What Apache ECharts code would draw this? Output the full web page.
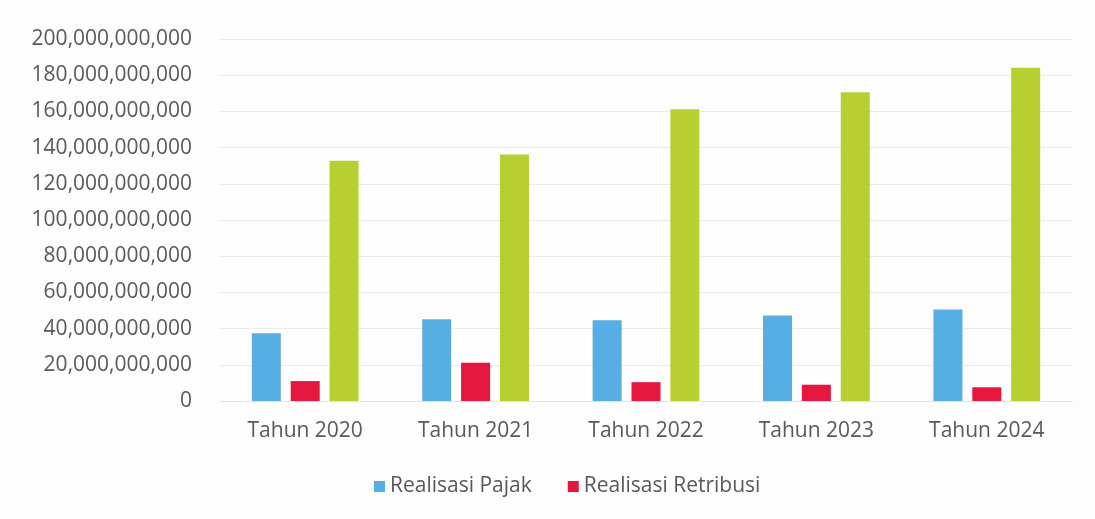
<!DOCTYPE html>
<html>
<head>
<meta charset="utf-8">
<script src="https://cdn.jsdelivr.net/npm/echarts@6/dist/echarts.min.js"></script>
<style>
  html, body { margin: 0; padding: 0; background: #fdfdfd; }
  #chart { width: 1095px; height: 519px; }
</style>
</head>
<body>
<div id="chart"></div>
<script>
const categories = ['Tahun 2020', 'Tahun 2021', 'Tahun 2022', 'Tahun 2023', 'Tahun 2024'];
const pajak = [37.5e9, 45.2e9, 44.6e9, 47.2e9, 50.6e9];
const retribusi = [11.0e9, 21.2e9, 10.4e9, 9.0e9, 7.6e9];
const total = [132.7e9, 136.2e9, 161.2e9, 170.6e9, 184.1e9];
const yTicks = { min: 0, max: 200e9, interval: 20e9 };

const chart = echarts.init(document.getElementById('chart'));
const fmt = v => v === 0 ? '0' : v.toLocaleString('en-US');
const font = '"Open Sans", "Liberation Sans", sans-serif';

chart.setOption({
  backgroundColor: '#fdfdfd',
  animation: false,
  grid: { left: 220, right: 23, top: 39, bottom: 118 },
  legend: {
    data: ['Realisasi Pajak', 'Realisasi Retribusi'],
    bottom: 17,
    left: 369,
    itemWidth: 11,
    itemHeight: 11,
    itemGap: 36,
    icon: 'rect',
    textStyle: { color: '#595959', fontSize: 21, fontFamily: font }
  },
  xAxis: {
    type: 'category',
    data: categories,
    axisLine: { lineStyle: { color: '#e4e4e4' } },
    axisTick: { show: false },
    axisLabel: { color: '#595959', fontSize: 21, fontFamily: font, margin: 20 }
  },
  yAxis: {
    type: 'value',
    min: yTicks.min,
    max: yTicks.max,
    interval: yTicks.interval,
    axisLine: { show: false },
    axisTick: { show: false },
    splitLine: { lineStyle: { color: '#ebebeb' } },
    axisLabel: { color: '#595959', fontSize: 21, fontFamily: font, margin: 28, formatter: fmt }
  },
  series: [
    { name: 'Realisasi Pajak', type: 'bar', data: pajak, barWidth: 29, barGap: '34%',
      itemStyle: { color: '#56aee2' } },
    { name: 'Realisasi Retribusi', type: 'bar', data: retribusi, barWidth: 29,
      itemStyle: { color: '#e5173f' } },
    { name: 'Total', type: 'bar', data: total, barWidth: 29,
      itemStyle: { color: '#b7cf30' } }
  ]
});
</script>
</body>
</html>
